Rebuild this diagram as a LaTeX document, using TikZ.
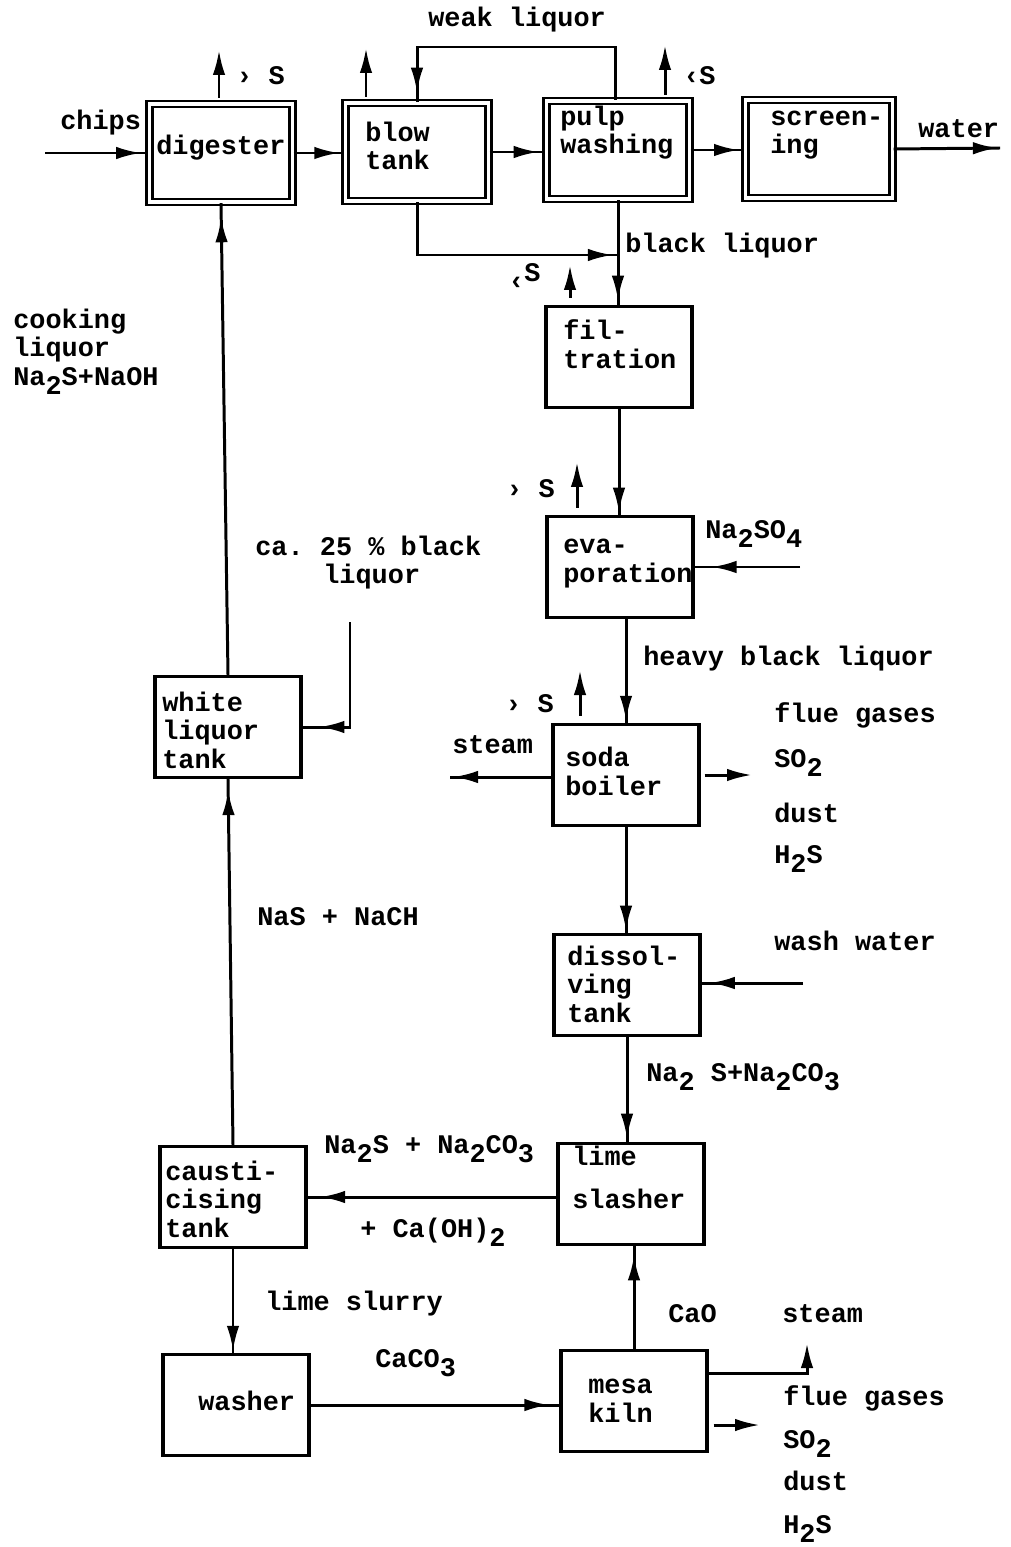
\documentclass[tikz,border=0pt]{standalone}
\usepackage{fontspec}
\setmainfont{Liberation Mono}
\usetikzlibrary{decorations.markings, arrows.meta, calc}

\newcommand{\lowr}[1]{\raisebox{-0.7ex}{#1}}
\frenchspacing

\begin{document}
\begin{tikzpicture}[x=0.02cm, y=-0.02cm,
    font=\fontsize{15.3}{16}\selectfont\bfseries,
    % flow line, the tip sits close to the end
    flow/.style={line width=1.7pt,
        decoration={markings, mark=at position #1 with {\arrow{Latex[length=5mm,width=2.5mm]}}},
        postaction={decorate}},
    flow/.default=0.97,
    vent/.style={line width=1.7pt, -{Latex[length=5mm,width=2.5mm]}},
    unit/.style={draw, line width=1.9pt, inner sep=0pt, minimum width=2.92cm, minimum height=2.02cm},
    dunit/.style={draw, line width=1.3pt, double, double distance=2.1pt, inner sep=0pt,
        minimum width=2.86cm, minimum height=1.96cm},
    txt/.style={anchor=base west, inner sep=0pt, align=left}
]
\useasboundingbox (0,0) rectangle (1010,1547);

% Top row
\node[dunit] (dig) at (221,153) {};
\node[dunit] (blow) at (417,152) {};
\node[dunit] (pulp) at (618,150) {};
\node[dunit, minimum width=2.94cm] (scr) at (819,149) {};

% Recovery line
\node[unit] (filt) at (619,357) {};
\node[unit] (evap) at (620,567) {};
\node[unit] (soda) at (626,775) {};
\node[unit] (diss) at (627,985) {};
\node[unit] (lime) at (631,1194) {};
\node[unit] (kiln) at (634,1401) {};

% Left line
\node[unit] (white) at (228,727) {};
\node[unit] (caus) at (233,1197) {};
\node[unit] (wash) at (236,1405) {};

% Box texts (base = last line)
\node[txt] (digT) at (156,155) {digester};
\node[txt] (blowT) at (365,170) {blow\\tank};
\node[txt] (pulpT) at (560,154) {pulp\\washing};
\node[txt] (scrT) at (770,154) {screen-\\ing};
\node[txt] (filtT) at (563,368) {fil-\\tration};
\node[txt] (evapT) at (563,582) {eva-\\poration};
\node[txt] (sodaT) at (565,795) {soda\\boiler};
\node[txt] (dissT) at (567,1022) {dissol-\\ving\\tank};
\node[txt] (limeT) at (572,1208) {lime\\[8pt]slasher};
\node[txt] (kilnT) at (588,1422) {mesa\\kiln};
\node[txt] (whiteT) at (162,768) {white\\liquor\\tank};
\node[txt] (causT) at (165,1237) {causti-\\cising\\tank};
\node[txt] (washT) at (198,1410) {washer};

% Labels
\node[txt] (weak) at (428,27) {weak liquor};
\node[txt] (chips) at (60,130) {chips};
\node[txt] (water) at (918,138) {water};
\node[txt] (sDig) at (236,85) {› S};
\node[txt] (sPulp) at (683,85) {‹S};
\node[txt] (black) at (625,253) {black liquor};
\node[txt] (sFilt) at (508,290) {‹\raisebox{0.6ex}{S}};
\node[txt] (cook) at (13,385) {cooking\\liquor\\Na\lowr{2}S+NaOH};
\node[txt] (sEvap) at (506,497) {› S};
\node[txt] (naso) at (705,538) {Na\lowr{2}SO\lowr{4}};
\node[txt] (quarter) at (255,555) {ca. 25 \% black};
\node[txt] (quarterB) at (323,583) {liquor};
\node[txt] (heavy) at (643,665) {heavy black liquor};
\node[txt] (sSoda) at (505,712) {› S};
\node[txt] (steamA) at (452,753) {steam};
\node[txt] (flueA) at (774,722) {flue gases};
\node[txt] (soA) at (774,767) {SO\lowr{2}};
\node[txt] (dustA) at (774,822) {dust};
\node[txt] (hsA) at (774,863) {H\lowr{2}S};
\node[txt] (nas) at (257,925) {NaS + NaCH};
\node[txt] (wwater) at (774,950) {wash water};
\node[txt] (nasco) at (646,1081) {Na\lowr{2} S+Na\lowr{2}CO\lowr{3}};
\node[txt] (nascoB) at (324,1153) {Na\lowr{2}S + Na\lowr{2}CO\lowr{3}};
\node[txt] (caoh) at (360,1237) {+ Ca(OH)\lowr{2}};
\node[txt] (slurry) at (265,1310) {lime slurry};
\node[txt] (cao) at (668,1322) {CaO};
\node[txt] (steamB) at (782,1322) {steam};
\node[txt] (caco) at (375,1367) {CaCO\lowr{3}};
\node[txt] (flueB) at (783,1405) {flue gases};
\node[txt] (soB) at (783,1448) {SO\lowr{2}};
\node[txt] (dustB) at (783,1490) {dust};
\node[txt] (hsB) at (783,1533) {H\lowr{2}S};

% Free ends
\coordinate (chipsIn) at (45,153);
\coordinate (waterOut) at (1000,148);
\coordinate (digVent) at (219,50);
\coordinate (blowVent) at (366,48);
\coordinate (pulpVent) at (665,45);
\coordinate (weakL) at (417,47);
\coordinate (weakR) at (615,47);
\coordinate (blJoin) at (618,255);
\coordinate (filtVent) at (570,265);
\coordinate (evapVent) at (577,462);
\coordinate (nasoIn) at (800,567);
\coordinate (sodaVent) at (580,670);
\coordinate (steamOut) at (450,777);
\coordinate (flueOutA) at (752,775);
\coordinate (wwIn) at (803,983);
\coordinate (kilnBend) at (807,1373);
\coordinate (kilnSteam) at (807,1343);
\coordinate (flueOutB) at (760,1425);
\coordinate (blIn) at (350,622);

% Pulp line
\draw[flow=0.93] (chipsIn) -- (dig.west);
\draw[flow=0.9] (dig.east) -- (blow.west |- dig.east);
\draw[flow=0.88] (blow.east) -- (pulp.west |- blow.east);
\draw[flow=0.9] (pulp.east) -- (scr.west |- pulp.east);
\draw[flow=0.98] (scr.east) -- (waterOut);
\draw[vent, shorten <=0.1cm] (digVent |- dig.north) -- (digVent);
\draw[vent, shorten <=0.1cm] (blowVent |- blow.north) -- (blowVent);
\draw[vent, shorten <=0.1cm] (pulpVent |- pulp.north) -- (pulpVent);
\draw[flow=0.97] (pulp.north -| weakR) -- (weakR) -- (weakL) -- (blow.north);
\draw[flow=0.98] (blow.south) -- (blow.south |- blJoin) -- (blJoin);

% Recovery line
\draw[flow=0.96] (pulp.south) -- (pulp.south |- filt.north);
\draw[vent, shorten <=0.14cm] (filtVent |- filt.north) -- (filtVent);
\draw[flow=0.98] (filt.south) -- (filt.south |- evap.north);
\draw[vent, shorten <=0.14cm] (evapVent |- evap.north) -- (evapVent);
\draw[flow=0.84] (nasoIn) -- (evap.east |- nasoIn);
\draw[flow=0.98] (soda.north |- evap.south) -- (soda.north);
\draw[vent, shorten <=0.14cm] (sodaVent |- soda.north) -- (sodaVent);
\draw[flow=0.97] (soda.west |- steamOut) -- (steamOut);
\draw[vent, shorten <=0.08cm] (soda.east |- flueOutA) -- (flueOutA);
\draw[flow=0.98] (soda.south) -- (soda.south |- diss.north);
\draw[flow=0.92] (wwIn) -- (diss.east |- wwIn);
\draw[flow=0.97] (diss.south) -- (diss.south |- lime.north);
\draw[flow=0.95] (lime.west |- caus.east) -- (caus.east);

% Lime cycle
\draw[flow=0.98] (caus.south) -- (caus.south |- wash.north);
\draw[flow=0.96] (wash.east) -- (kiln.west |- wash.east);
\draw[flow=0.91] (kiln.north) -- (kiln.north |- lime.south);
\draw[vent] (kiln.east |- kilnBend) -- (kilnBend) -- (kilnSteam);
\draw[vent, shorten <=0.1cm] (kiln.east |- flueOutB) -- (flueOutB);

% White liquor back to the digester
\draw[flow=0.97] (caus.north) -- (white.south);
\draw[flow=0.97] (white.north) -- (dig.south);
\draw[flow=0.89] (blIn) -- (blIn |- white.east) -- (white.east);

\end{tikzpicture}
\end{document}
